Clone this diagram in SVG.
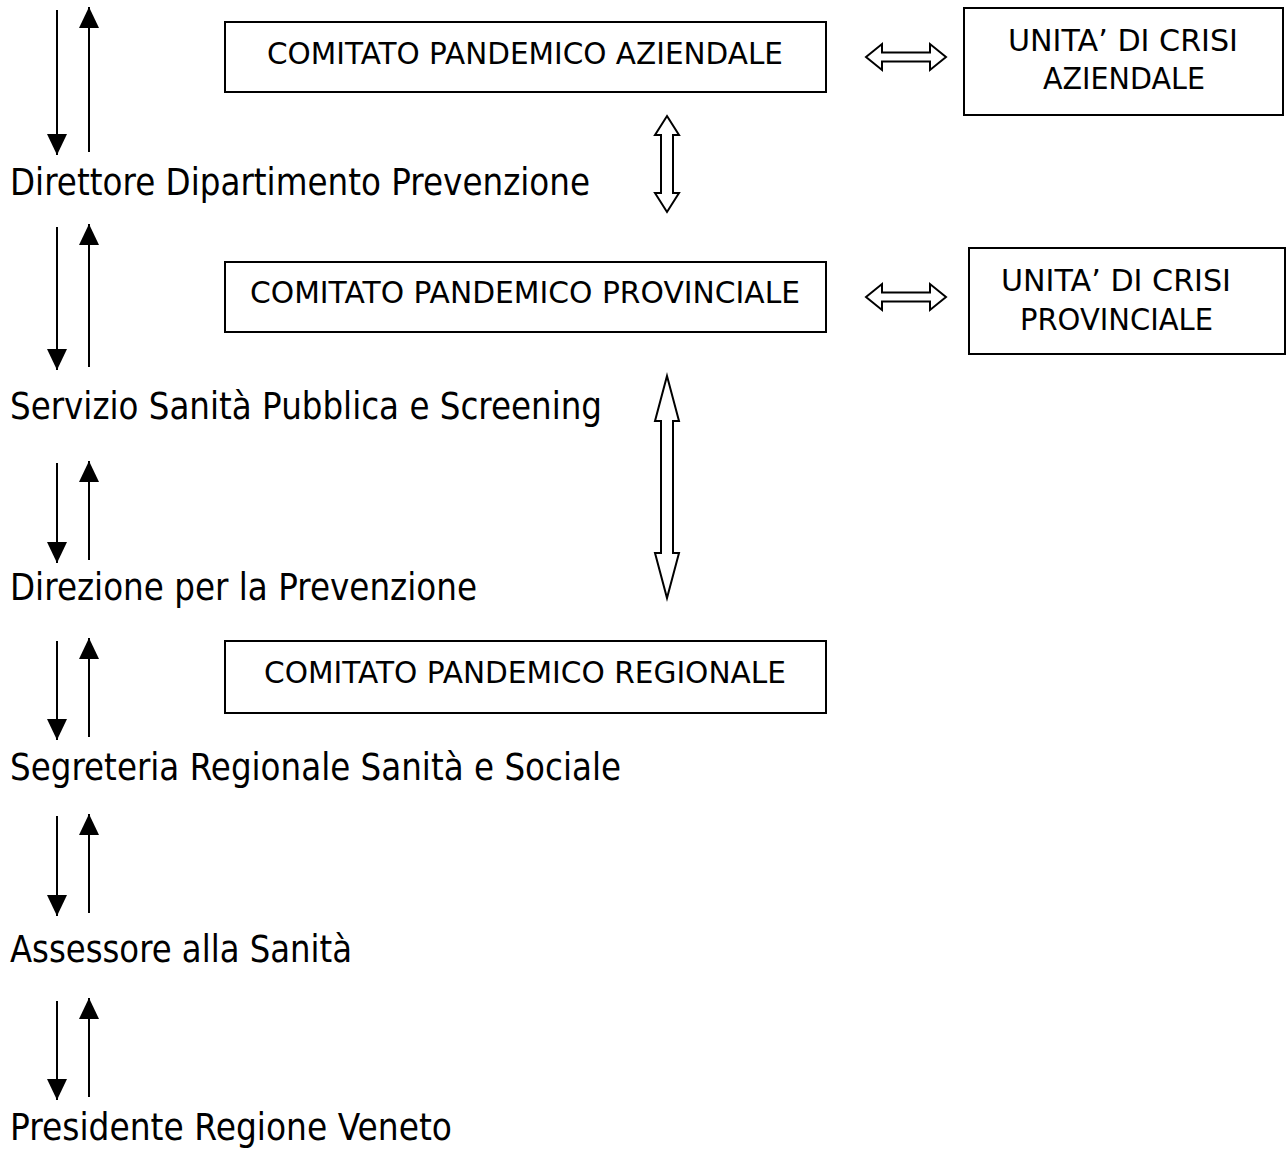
<svg xmlns="http://www.w3.org/2000/svg" width="1286" height="1151" viewBox="0 0 1286 1151">
<defs>
<style>
.box{fill:#fff;stroke:#000;stroke-width:2}
.bt{font-family:"DejaVu Sans","Liberation Sans",sans-serif;font-size:31px;fill:#000}
.lt{font-family:"DejaVu Sans","Liberation Sans",sans-serif;font-size:37px;fill:#000}
.ln{stroke:#000;stroke-width:2;fill:none}
.blk{fill:#fff;stroke:#000;stroke-width:2;stroke-linejoin:miter}
</style>
<marker id="ah" viewBox="0 0 21 20" markerUnits="userSpaceOnUse" markerWidth="21" markerHeight="20" refX="21" refY="10" orient="auto">
<path d="M0,0 L21,10 L0,20 Z" fill="#000"/>
</marker>
</defs>
<rect width="1286" height="1151" fill="#fff"/>

<g id="label-direttore"><text class="lt" x="10" y="195" textLength="580" lengthAdjust="spacingAndGlyphs">Direttore Dipartimento Prevenzione</text></g>
<g id="label-servizio"><text class="lt" x="10" y="419" textLength="592" lengthAdjust="spacingAndGlyphs">Servizio Sanità Pubblica e Screening</text></g>
<g id="label-direzione"><text class="lt" x="10" y="600" textLength="467" lengthAdjust="spacingAndGlyphs">Direzione per la Prevenzione</text></g>
<g id="label-segreteria"><text class="lt" x="10" y="780" textLength="611" lengthAdjust="spacingAndGlyphs">Segreteria Regionale Sanità e Sociale</text></g>
<g id="label-assessore"><text class="lt" x="10" y="962" textLength="342" lengthAdjust="spacingAndGlyphs">Assessore alla Sanità</text></g>
<g id="label-presidente"><text class="lt" x="10" y="1140" textLength="442" lengthAdjust="spacingAndGlyphs">Presidente Regione Veneto</text></g>

<g id="comitato-aziendale"><rect class="box" x="225" y="22" width="601" height="70"/><text class="bt" x="267" y="64" textLength="516" lengthAdjust="spacingAndGlyphs">COMITATO PANDEMICO AZIENDALE</text></g>
<g id="unita-aziendale"><rect class="box" x="964" y="8" width="319" height="107"/><text class="bt" x="1008" y="51" textLength="230" lengthAdjust="spacingAndGlyphs">UNITA’ DI CRISI</text><text class="bt" x="1043" y="89" textLength="162" lengthAdjust="spacingAndGlyphs">AZIENDALE</text></g>
<g id="comitato-provinciale"><rect class="box" x="225" y="262" width="601" height="70"/><text class="bt" x="250" y="303" textLength="550" lengthAdjust="spacingAndGlyphs">COMITATO PANDEMICO PROVINCIALE</text></g>
<g id="unita-provinciale"><rect class="box" x="969" y="248" width="316" height="106"/><text class="bt" x="1001" y="291" textLength="230" lengthAdjust="spacingAndGlyphs">UNITA’ DI CRISI</text><text class="bt" x="1020" y="330" textLength="193" lengthAdjust="spacingAndGlyphs">PROVINCIALE</text></g>
<g id="comitato-regionale"><rect class="box" x="225" y="641" width="601" height="72"/><text class="bt" x="264" y="683" textLength="522" lengthAdjust="spacingAndGlyphs">COMITATO PANDEMICO REGIONALE</text></g>

<g id="connectors">
<line class="ln" x1="57" y1="10" x2="57" y2="155" marker-end="url(#ah)"/>
<line class="ln" x1="89" y1="152" x2="89" y2="7" marker-end="url(#ah)"/>
<line class="ln" x1="57" y1="227" x2="57" y2="370" marker-end="url(#ah)"/>
<line class="ln" x1="89" y1="367" x2="89" y2="224" marker-end="url(#ah)"/>
<line class="ln" x1="57" y1="463" x2="57" y2="563" marker-end="url(#ah)"/>
<line class="ln" x1="89" y1="560" x2="89" y2="461" marker-end="url(#ah)"/>
<line class="ln" x1="57" y1="641" x2="57" y2="740" marker-end="url(#ah)"/>
<line class="ln" x1="89" y1="737" x2="89" y2="638" marker-end="url(#ah)"/>
<line class="ln" x1="57" y1="816" x2="57" y2="916" marker-end="url(#ah)"/>
<line class="ln" x1="89" y1="913" x2="89" y2="814" marker-end="url(#ah)"/>
<line class="ln" x1="57" y1="1001" x2="57" y2="1100" marker-end="url(#ah)"/>
<line class="ln" x1="89" y1="1097" x2="89" y2="998" marker-end="url(#ah)"/>

<path class="blk" d="M866,57 L882,44 L882,52.5 L930,52.5 L930,44 L946,57 L930,70 L930,61.5 L882,61.5 L882,70 Z"/>
<path class="blk" d="M866,297 L882,284 L882,292.5 L930,292.5 L930,284 L946,297 L930,310 L930,301.5 L882,301.5 L882,310 Z"/>
<path class="blk" d="M667,116 L679,135 L673,135 L673,193 L679,193 L667,212 L655,193 L661,193 L661,135 L655,135 Z"/>
<path class="blk" d="M667,376 L679,421 L673,421 L673,553 L679,553 L667,598 L655,553 L661,553 L661,421 L655,421 Z"/>
</g>
</svg>
